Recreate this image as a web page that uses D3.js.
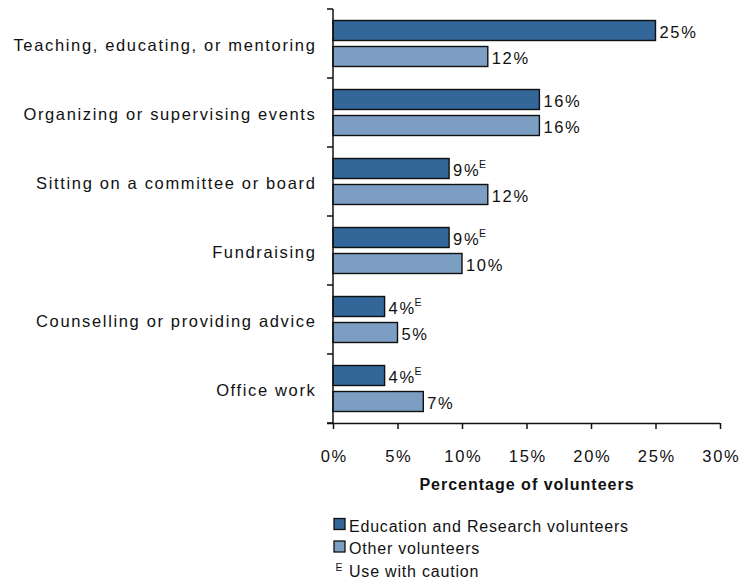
<!DOCTYPE html>
<html>
<head>
<meta charset="utf-8">
<script src="https://cdn.jsdelivr.net/npm/d3@7"></script>
<style>
  body { margin: 0; background: #fff; }
  svg { display: block; font-family: "Liberation Sans", Arial, sans-serif; }
</style>
</head>
<body>
<svg id="chart" width="740" height="581"></svg>
<script>
// Volunteer activities, percentage of volunteers
const categories = [
  "Teaching, educating, or mentoring",
  "Organizing or supervising events",
  "Sitting on a committee or board",
  "Fundraising",
  "Counselling or providing advice",
  "Office work"
];
const eduValues = [25, 16, 9, 9, 4, 4];
const eduCaution = [false, false, true, true, true, true];
const otherValues = [12, 16, 12, 10, 5, 7];
const otherCaution = [false, false, false, false, false, false];
const xTicks = [0, 5, 10, 15, 20, 25, 30];
const seriesNames = ["Education and Research volunteers", "Other volunteers"];
const seriesColors = ["#336699", "#7b9ec2"];

const svg = d3.select("#chart");
const plotLeft = 333, plotRight = 720, plotTop = 9, plotBottom = 423;
const FS = 16.5, LS = 1.65;

const x = d3.scaleLinear().domain([0, 30]).range([plotLeft, plotRight]);
const y = d3.scaleBand().domain(categories).range([plotTop, plotBottom]);

const series = [
  { values: eduValues, caution: eduCaution, offset: 11.5 },
  { values: otherValues, caution: otherCaution, offset: 37.5 }
];
const barH = 20;

series.forEach((s, si) => {
  const g = svg.append("g");
  categories.forEach((c, i) => {
    const y0 = y(c) + s.offset;
    g.append("rect")
      .attr("x", x(0))
      .attr("y", y0)
      .attr("width", x(s.values[i]) - x(0))
      .attr("height", barH)
      .attr("fill", seriesColors[si])
      .attr("stroke", "#111")
      .attr("stroke-width", 1.4);
    const t = g.append("text")
      .attr("x", x(s.values[i]) + 4)
      .attr("y", y0 + barH / 2 + 7.5)
      .attr("font-size", FS)
      .attr("letter-spacing", LS)
      .attr("fill", "#111")
      .text(s.values[i] + "%");
    if (s.caution[i]) {
      // "E" marker: use with caution
      const w = t.node().getComputedTextLength();
      g.append("text")
        .attr("x", x(s.values[i]) + 4 + w - LS + 0.5)
        .attr("y", y0 + barH / 2 + 7.5 - 8.4)
        .attr("font-size", 10.5)
        .attr("fill", "#111")
        .text("E");
    }
  });
});

// Category axis: ticks at band boundaries
const boundaries = categories.map(c => y(c)).concat([plotBottom]);
boundaries.forEach(b => {
  svg.append("line").attr("x1", plotLeft - 6).attr("x2", plotLeft)
    .attr("y1", b).attr("y2", b).attr("stroke", "#111").attr("stroke-width", 1.5);
});
svg.append("line").attr("x1", plotLeft).attr("x2", plotLeft)
  .attr("y1", plotTop).attr("y2", plotBottom).attr("stroke", "#111").attr("stroke-width", 1.5);

categories.forEach(c => {
  svg.append("text")
    .attr("x", 316.5)
    .attr("y", y(c) + y.bandwidth() / 2 + 7.5)
    .attr("text-anchor", "end")
    .attr("font-size", FS)
    .attr("letter-spacing", LS)
    .attr("fill", "#111")
    .text(c);
});

// Value axis
const xAxis = d3.axisBottom(x).tickValues(xTicks).tickSize(6).tickSizeOuter(0)
  .tickFormat(d => d + "%");
const xg = svg.append("g").attr("transform", `translate(0,${plotBottom})`).call(xAxis);
xg.select(".domain").attr("d", `M${plotLeft - 6},0.5H${plotRight}`).attr("stroke", "#111").attr("stroke-width", 1.5);
xg.selectAll(".tick line").attr("stroke", "#111").attr("stroke-width", 1.5);
xg.selectAll(".tick text").attr("font-size", FS).attr("fill", "#111")
  .attr("letter-spacing", LS)
  .attr("font-family", "Liberation Sans, Arial, sans-serif")
  .attr("y", 39).attr("dy", 0).attr("dx", LS / 2);

svg.append("text")
  .attr("x", (plotLeft + plotRight) / 2 + 0.5)
  .attr("y", 490)
  .attr("text-anchor", "middle")
  .attr("font-size", 16)
  .attr("letter-spacing", 1)
  .attr("font-weight", "bold")
  .attr("fill", "#111")
  .text("Percentage of volunteers");

// Legend
const legend = svg.append("g");
seriesNames.forEach((n, i) => {
  const ly = 518.5 + i * 22.5;
  legend.append("rect")
    .attr("x", 334).attr("y", ly).attr("width", 11).attr("height", 11)
    .attr("fill", seriesColors[i]).attr("stroke", "#111").attr("stroke-width", 1.3);
  legend.append("text")
    .attr("x", 349).attr("y", ly + 13)
    .attr("font-size", 16).attr("letter-spacing", 0.8).attr("fill", "#111")
    .text(n);
});
legend.append("text").attr("x", 335.5).attr("y", 570.5)
  .attr("font-size", 10.5).attr("fill", "#111").text("E");
legend.append("text").attr("x", 349).attr("y", 577)
  .attr("font-size", 16).attr("letter-spacing", 0.8).attr("fill", "#111").text("Use with caution");
</script>
</body>
</html>
